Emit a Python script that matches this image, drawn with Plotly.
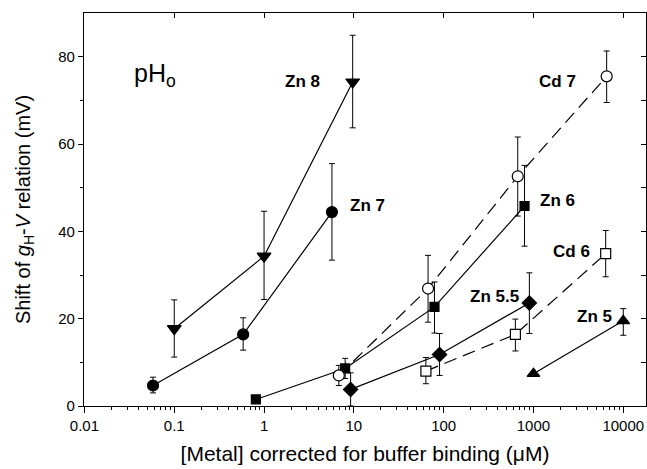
import plotly.graph_objects as go

# ---- data ----
zn8_x = [0.1, 1.0, 9.7]
zn8_y = [17.7, 34.3, 74.2]
zn8_up = [6.6, 10.3, 10.7]
zn8_dn = [6.5, 9.9, 10.5]

zn7_x = [0.058, 0.585, 5.7]
zn7_y = [4.7, 16.4, 44.4]
zn7_up = [1.9, 3.8, 11.1]
zn7_dn = [1.7, 3.6, 11.0]

zn6_x = [0.81, 8.0, 79, 795]
zn6_y = [1.5, 8.6, 22.7, 45.8]
zn6_up = [0, 2.3, 5.7, 9.3]
zn6_dn = [0, 2.3, 6.0, 9.2]

cd7_x = [6.8, 67, 668, 6530]
cd7_y = [7.0, 26.9, 52.6, 75.5]
cd7_up = [2.3, 7.6, 9.0, 5.8]
cd7_dn = [2.3, 7.7, 9.1, 6.0]

zn55_x = [9.2, 90, 900]
zn55_y = [3.8, 11.8, 23.6]
zn55_up = [3.8, 4.8, 6.9]
zn55_dn = [3.8, 4.8, 7.0]

cd6_x = [63.4, 629, 6370]
cd6_y = [8.0, 16.4, 34.9]
cd6_up = [3.1, 3.5, 5.3]
cd6_dn = [2.9, 3.8, 5.3]

zn5_x = [1000, 10000]
zn5_y = [7.4, 19.5]
zn5_up = [0, 2.8]
zn5_dn = [0, 3.3]

x_tick_vals = [0.01, 0.1, 1, 10, 100, 1000, 10000]
x_tick_text = ["0.01", "0.1", "1", "10", "100", "1000", "10000"]
y_tick_vals = [0, 20, 40, 60, 80]

FONT = "Liberation Sans, Arial, Helvetica, sans-serif"
DASH = "13px,7px"

fig = go.Figure()


def add(x, y, up, dn, symbol, dash, size, filled=True):
    fig.add_trace(go.Scatter(
        x=x, y=y, mode="lines+markers",
        line=dict(color="black", width=1.2, dash=dash),
        marker=dict(symbol=symbol, size=size,
                    color="black" if filled else "white",
                    line=dict(color="black", width=1.2)),
        error_y=dict(type="data", symmetric=False, array=up, arrayminus=dn,
                     color="black", thickness=1, width=3),
        showlegend=False,
    ))


add(zn8_x, zn8_y, zn8_up, zn8_dn, "triangle-down", "solid", 12)
add(zn7_x, zn7_y, zn7_up, zn7_dn, "circle", "solid", 11)
add(zn6_x, zn6_y, zn6_up, zn6_dn, "square", "solid", 9)
add(cd7_x, cd7_y, cd7_up, cd7_dn, "circle", DASH, 11, filled=False)
add(zn55_x, zn55_y, zn55_up, zn55_dn, "diamond", "solid", 11)
add(cd6_x, cd6_y, cd6_up, cd6_dn, "square", DASH, 10, filled=False)
add(zn5_x, zn5_y, zn5_up, zn5_dn, "triangle-up", "solid", 11)

# empty trace to attach mirror axes (inward ticks on top/right)
fig.add_trace(go.Scatter(x=[], y=[], xaxis="x2", yaxis="y2", showlegend=False))

XR = [-2.005, 4.253]
YR = [0, 90]

fig.update_layout(
    width=647, height=469,
    margin=dict(l=84, r=1, t=13, b=63),
    paper_bgcolor="white", plot_bgcolor="white",
    font=dict(family=FONT, color="black", size=15),
    xaxis=dict(
        type="log", range=XR, showgrid=False, zeroline=False,
        showline=True, linecolor="black", linewidth=1.2,
        ticks="outside", ticklen=6, tickwidth=1, tickcolor="black",
        tickvals=x_tick_vals, ticktext=x_tick_text,
        tickfont=dict(size=15),
        minor=dict(ticks="outside", ticklen=3, tickcolor="black", tickwidth=1,
                   dtick="D1", showgrid=False),
        title=dict(text="[Metal] corrected for buffer binding (\u03bcM)",
                   font=dict(size=21), standoff=13),
    ),
    yaxis=dict(
        range=YR, showgrid=False, zeroline=False,
        showline=True, linecolor="black", linewidth=1.2,
        ticks="outside", ticklen=5, tickwidth=1, tickcolor="black",
        tickvals=y_tick_vals, tickfont=dict(size=15),
        minor=dict(ticks="outside", ticklen=3, tickcolor="black",
                   tickvals=[10, 30, 50, 70], showgrid=False),
        title=dict(text="Shift of <i>g</i><sub>H</sub>-<i>V</i> relation (mV)",
                   font=dict(size=20), standoff=22),
    ),
    xaxis2=dict(
        type="log", range=XR, overlaying="x", side="top",
        showgrid=False, zeroline=False, showline=True, linecolor="black",
        linewidth=1.2, ticks="inside", ticklen=5, tickcolor="black",
        tickvals=[0.1, 1, 10, 100, 1000, 10000], showticklabels=False,
    ),
    yaxis2=dict(
        range=YR, overlaying="y", side="right",
        showgrid=False, zeroline=False, showline=True, linecolor="black",
        linewidth=1.2, ticks="inside", ticklen=5, tickcolor="black",
        tickvals=[10, 20, 30, 40, 50, 60, 70, 80], showticklabels=False,
    ),
)

labels = [
    ("Zn 8", 0.433, 74.2),
    ("Zn 7", 1.151, 46.0),
    ("Cd 7", 3.267, 74.2),
    ("Zn 6", 3.262, 47.1),
    ("Cd 6", 3.423, 35.4),
    ("Zn 5.5", 2.571, 25.1),
    ("Zn 5", 3.674, 20.6),
]
for txt, lx, ly in labels:
    fig.add_annotation(x=lx, y=ly, xref="x", yref="y", text=f"<b>{txt}</b>",
                       showarrow=False, font=dict(size=17, family=FONT),
                       xanchor="center", yanchor="middle")

fig.add_annotation(x=-1.47, y=75.9, xref="x", yref="y",
                   text="pH<sub>o</sub>", showarrow=False,
                   font=dict(size=25, family=FONT),
                   xanchor="left", yanchor="middle")

fig.write_html("out.html")
